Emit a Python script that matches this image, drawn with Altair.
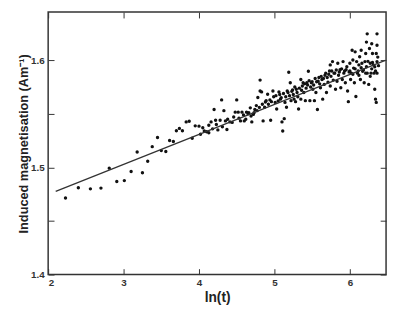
import altair as alt
import pandas as pd

# measured points: ln(t)
x_vals = [2.23, 2.40, 2.56, 2.70, 2.81, 2.91, 3.01, 3.10, 3.18, 3.25, 3.32, 3.38, 3.45, 3.50, 3.56,
          3.61, 3.66, 3.70, 3.74, 3.78, 3.83, 3.87, 3.91, 3.95,
          4.00, 4.05, 4.10, 4.13, 4.13, 4.16, 4.20, 4.22, 4.25, 4.28, 4.30, 4.33, 4.35, 4.37, 4.41,
          4.44, 4.48, 4.50, 4.52, 4.55, 4.57, 4.60, 4.63, 4.65, 4.68, 4.70, 4.72, 4.74, 4.76, 4.78,
          4.81, 4.81, 4.83, 4.85, 4.87, 4.89, 4.91, 4.95, 4.96, 4.98, 5.01, 5.03, 5.06, 5.08, 5.10,
          5.11, 5.13, 5.14, 5.16, 5.17, 5.19, 5.21, 5.22, 5.24, 5.26, 5.28, 5.30, 5.32, 5.35, 5.35,
          5.38, 5.39, 5.41, 5.43, 5.45, 5.47, 5.49, 5.51, 5.53, 5.55, 5.57, 5.58, 5.61, 5.63, 5.64,
          5.66, 5.68, 5.69, 5.71, 5.74, 5.74, 5.77, 5.78, 5.80, 5.81, 5.83, 5.84, 5.87, 5.88, 5.90,
          5.91, 5.92, 5.94, 5.95, 5.97, 5.98, 6.00, 6.01, 6.02, 6.03, 6.04, 6.05, 6.06, 6.07, 6.08,
          6.09, 6.10, 6.12, 6.13, 6.14, 6.15, 6.16, 6.17, 6.19, 6.20, 6.21, 6.22, 6.23, 6.23, 6.25,
          6.26, 6.27, 6.28, 6.29, 6.30, 6.31, 6.32, 6.33, 6.34, 6.35, 6.35, 6.36, 6.36, 6.36, 6.36,
          4.02, 4.07, 4.18, 4.23, 4.31, 4.38, 4.46, 4.53, 4.59, 4.62, 4.66, 4.69, 4.73, 4.77, 4.80,
          4.84, 4.88, 4.92, 4.94, 4.99, 5.02, 5.05, 5.07, 5.09, 5.12, 5.15, 5.18, 5.20, 5.23, 5.25,
          5.27, 5.29, 5.31, 5.33, 5.36, 5.37, 5.40, 5.42, 5.44, 5.46, 5.48, 5.50, 5.52, 5.54, 5.56,
          5.59, 5.60, 5.62, 5.65, 5.67, 5.70, 5.72, 5.73, 5.75, 5.76, 5.79, 5.82, 5.85, 5.86, 5.89,
          5.93, 5.96, 5.99, 6.00, 6.04, 6.07, 6.11, 6.12, 6.15, 6.18, 6.21, 6.22, 6.24, 6.27, 6.29,
          6.30, 6.33, 6.34, 6.37, 6.38]

# induced magnetisation (Am^-1)
y_vals = [1.4715, 1.481, 1.480, 1.4807, 1.4993, 1.4868, 1.4877, 1.4962, 1.5144, 1.495, 1.5057,
          1.5194, 1.5279, 1.5157, 1.5148, 1.5251, 1.5242, 1.5342, 1.5364, 1.5342, 1.5425, 1.5431,
          1.5272, 1.5388,
          1.5385, 1.537, 1.5333, 1.5324, 1.5394, 1.5425, 1.554, 1.544, 1.535, 1.544, 1.563, 1.553,
          1.5434, 1.5354, 1.5425, 1.542, 1.5516, 1.563, 1.5516, 1.5434, 1.5516, 1.5434, 1.5516, 1.550,
          1.5556, 1.5425, 1.5495, 1.554, 1.5577, 1.5653, 1.5815, 1.5714, 1.5705, 1.5434, 1.5562,
          1.5623, 1.5683, 1.544, 1.5614, 1.5714, 1.5607, 1.5545, 1.5705, 1.5637, 1.5425, 1.534,
          1.5455, 1.5607, 1.5562, 1.5714, 1.5888, 1.579, 1.5623, 1.5723, 1.5637, 1.5614, 1.5699,
          1.5545, 1.582, 1.5637, 1.579, 1.5699, 1.5623, 1.579, 1.5897, 1.5623, 1.579, 1.5729, 1.5623,
          1.5699, 1.554, 1.5805, 1.5744, 1.582, 1.5637, 1.5775, 1.588, 1.5699, 1.5796, 1.5957, 1.576,
          1.5988, 1.5815, 1.588, 1.5729, 1.5805, 1.5973, 1.5912, 1.5744, 1.582, 1.5988, 1.588, 1.579,
          1.5912, 1.5714, 1.5614, 1.5973, 1.582, 1.588, 1.6094, 1.6003, 1.5927, 1.579, 1.6079, 1.5662,
          1.5988, 1.588, 1.5957, 1.6033, 1.582, 1.6094, 1.5973, 1.5897, 1.579, 1.5988, 1.6064, 1.617,
          1.6247, 1.588, 1.5775, 1.611, 1.5973, 1.588, 1.6155, 1.6064, 1.5957, 1.588, 1.5729, 1.5637,
          1.5607, 1.6064, 1.6247, 1.614, 1.5988, 1.588,
          1.531, 1.534, 1.536, 1.540, 1.538, 1.545, 1.547, 1.546, 1.549, 1.545, 1.551, 1.548, 1.551,
          1.553, 1.556, 1.559, 1.561, 1.559, 1.563, 1.566, 1.567, 1.562, 1.568, 1.565, 1.569, 1.566,
          1.570, 1.567, 1.571, 1.568, 1.575, 1.573, 1.566, 1.574, 1.572, 1.576, 1.578, 1.574, 1.577,
          1.581, 1.575, 1.580, 1.577, 1.583, 1.580, 1.584, 1.578, 1.585, 1.583, 1.586, 1.584, 1.587,
          1.590, 1.585, 1.590, 1.588, 1.591, 1.586, 1.589, 1.592, 1.590, 1.594, 1.589, 1.590, 1.587,
          1.592, 1.590, 1.586, 1.593, 1.591, 1.588, 1.594, 1.599, 1.585, 1.592, 1.598, 1.594, 1.590,
          1.603, 1.595]

# fitted line end points
line_x = [2.10, 6.47]
line_y = [1.4776, 1.6000]

y_ticks = [1.4, 1.45, 1.5, 1.55, 1.6]
x_ticks = [2, 3, 4, 5, 6]

W, H = 345, 268

pts = pd.DataFrame({"x": x_vals, "y": y_vals})
fit = pd.DataFrame({"x": line_x, "y": line_y})

FONT = "Liberation Sans"
xs = alt.Scale(domain=[2, 6.48], nice=False, zero=False)
ys = alt.Scale(domain=[1.4, 1.645], nice=False, zero=False)

points = alt.Chart(pts).mark_circle(size=12, color="#111111", opacity=1).encode(
    x=alt.X("x:Q", scale=xs, axis=alt.Axis(
        title="ln(t)", values=x_ticks, format="d", orient="bottom",
        offset=-6, tickSize=6, domain=False, grid=False, labelPadding=3,
        tickColor="#333333", labelColor="#333333", labelFont=FONT, labelFontSize=10,
        labelFontWeight="bold",
        titleFont=FONT, titleFontSize=14, titleFontWeight="bold", titlePadding=4,
        titleColor="#222222")),
    y=alt.Y("y:Q", scale=ys, axis=alt.Axis(
        title="Induced magnetisation (Am⁻¹)", values=y_ticks, orient="left",
        labelExpr="(round(datum.value*100) % 10 == 0) ? format(datum.value, '.1f') : ''",
        offset=-6, tickSize=6, domain=False, grid=False, labelPadding=4,
        tickColor="#333333", labelColor="#333333", labelFont=FONT, labelFontSize=10,
        labelFontWeight="bold",
        titleFont=FONT, titleFontSize=13, titleFontWeight="bold", titlePadding=0,
        titleColor="#222222")),
)

line = alt.Chart(fit).mark_line(color="#333333", strokeWidth=1.3).encode(
    x=alt.X("x:Q", scale=xs, axis=alt.Axis(
        orient="top", values=x_ticks, labels=False, title=None, offset=-6,
        tickSize=6, domain=False, grid=False, tickColor="#333333")),
    y=alt.Y("y:Q", scale=ys, axis=alt.Axis(
        orient="right", values=y_ticks, labels=False, title=None, offset=-6,
        tickSize=6, domain=False, grid=False, tickColor="#333333")),
)

frame = alt.Chart(fit).transform_filter("datum.x < 3").mark_rect(
    fillOpacity=0, stroke="#333333", strokeWidth=1.5
).encode(
    x=alt.value(0), x2=alt.value(W), y=alt.value(0), y2=alt.value(H)
)

chart = alt.layer(points, line, frame).resolve_axis(x="independent", y="independent").properties(
    width=W, height=H,
    background="white",
    autosize=alt.AutoSizeParams(type="none"),
    padding={"left": 41, "top": 1, "right": 3, "bottom": 32},
).configure_view(stroke=None)

chart.save("out.html", embed_options={"renderer": "svg", "actions": False})
